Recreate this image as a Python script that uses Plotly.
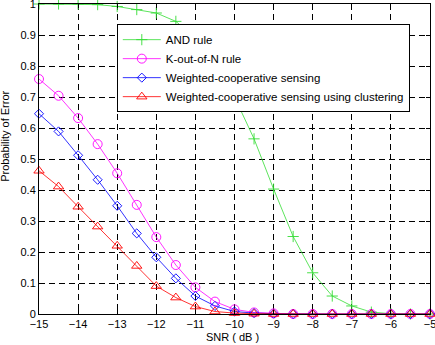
import plotly.graph_objects as go

snr = [-15, -14.5, -14, -13.5, -13, -12.5, -12, -11.5, -11, -10.5, -10,
       -9.5, -9, -8.5, -8, -7.5, -7, -6.5, -6, -5.5, -5]

and_rule = [1.0, 1.0, 1.0, 0.998, 0.992, 0.982, 0.971, 0.944, 0.89, 0.80, 0.70,
            0.565, 0.403, 0.25, 0.133, 0.058, 0.026, 0.006, 0.001, 0.0, 0.0]
k_out_of_n = [0.758, 0.704, 0.632, 0.548, 0.454, 0.352, 0.248, 0.158, 0.086, 0.04, 0.015,
              0.005, 0.002, 0.0, 0.0, 0.0, 0.0, 0.0, 0.0, 0.0, 0.0]
weighted = [0.646, 0.589, 0.512, 0.433, 0.349, 0.26, 0.183, 0.115, 0.058, 0.026, 0.008,
            0.003, 0.001, 0.0, 0.0, 0.0, 0.0, 0.0, 0.0, 0.0, 0.0]
clustering = [0.462, 0.411, 0.346, 0.282, 0.22, 0.155, 0.09, 0.053, 0.024, 0.008, 0.003,
              0.001, 0.0, 0.0, 0.0, 0.0, 0.0, 0.0, 0.0, 0.0, 0.0]

names = ["AND rule", "K-out-of-N rule", "Weighted-cooperative sensing",
         "Weighted-cooperative sensing using clustering"]
colors = ["#33dd33", "#ff00ff", "#0000ff", "#ff0000"]
symbols = ["cross-thin-open", "circle-open", "diamond-open", "triangle-up-open"]
sizes = [8, 9, 7, 9]
series = [and_rule, k_out_of_n, weighted, clustering]

fig = go.Figure()
for name, ys, c, s, sz in zip(names, series, colors, symbols, sizes):
    fig.add_trace(go.Scatter(
        x=snr, y=ys, name=name, mode="lines+markers",
        line=dict(color=c, width=0.8),
        marker=dict(symbol=s, size=sz, color=c, line=dict(color=c, width=0.9)),
        cliponaxis=False,
    ))

fam = "Liberation Sans, Arial, sans-serif"
font = dict(family=fam, size=11.5, color="black")
tfont = dict(family=fam, size=11, color="black")
titlefont = dict(family=fam, size=11, color="black")
axis_common = dict(
    showline=True, linecolor="black", linewidth=1, mirror="allticks",
    ticks="inside", ticklen=4, tickcolor="black",
    showgrid=True, gridcolor="black", gridwidth=0.6, griddash="6px,4px",
    zeroline=False, tickfont=tfont, automargin=False, ticklabeloverflow="allow",
)
fig.update_xaxes(range=[-15, -5], tickvals=list(range(-15, -4)), **axis_common)
fig.update_yaxes(range=[0, 1], tickvals=[i / 10 for i in range(11)],
                 ticktext=["0", "0.1", "0.2", "0.3", "0.4", "0.5", "0.6", "0.7", "0.8", "0.9", "1"],
                 **axis_common)

fig.add_annotation(text="SNR ( dB )", xref="paper", yref="paper", x=0.496, y=-0.0758,
                   xanchor="center", yanchor="middle", showarrow=False, font=titlefont)
fig.add_annotation(text="Probability of Error", xref="paper", yref="paper", x=-0.0857, y=0.573,
                   xanchor="center", yanchor="middle", textangle=-90, showarrow=False,
                   font=titlefont)

fig.update_layout(
    width=435, height=345,
    margin=dict(l=39, r=5, t=4, b=31, autoexpand=False),
    paper_bgcolor="white", plot_bgcolor="white",
    font=font,
    legend=dict(x=0.199, y=0.935, xanchor="left", yanchor="top",
                bgcolor="white", bordercolor="black", borderwidth=1,
                font=font, tracegroupgap=0, itemwidth=38),
    showlegend=True,
)

fig.write_html("out.html", config={"displayModeBar": False},
               post_script="document.body.style.margin='0px';")
